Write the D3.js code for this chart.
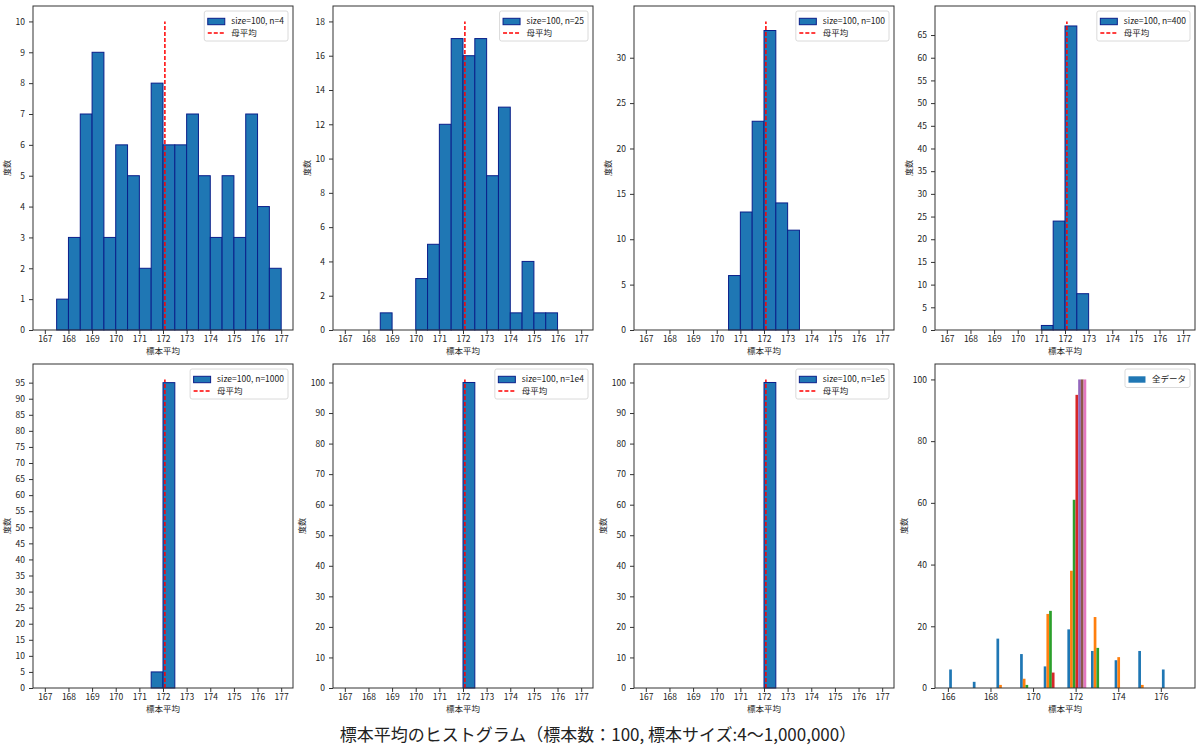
<!DOCTYPE html>
<html>
<head>
<meta charset="utf-8">
<script src="https://cdn.jsdelivr.net/npm/d3@7"></script>
<style>
  body { margin: 0; background: #fff; }
  text { font-family: "Noto Sans CJK JP", "Noto Sans", sans-serif; }
</style>
</head>
<body>
<svg id="chart"></svg>
<script>
// bin edges shared by the first seven panels (167 .. 177, width 0.5)
const binEdges = [167, 167.5, 168, 168.5, 169, 169.5, 170, 170.5, 171, 171.5, 172,
                  172.5, 173, 173.5, 174, 174.5, 175, 175.5, 176, 176.5, 177];

const counts4     = [0, 1, 3, 7, 9, 3, 6, 5, 2, 8, 6, 6, 7, 5, 3, 5, 3, 7, 4, 2];
const counts25    = [0, 0, 0, 1, 0, 0, 3, 5, 12, 17, 16, 17, 9, 13, 1, 4, 1, 1, 0, 0];
const counts100   = [0, 0, 0, 0, 0, 0, 0, 6, 13, 23, 33, 14, 11, 0, 0, 0, 0, 0, 0, 0];
const counts400   = [0, 0, 0, 0, 0, 0, 0, 0, 1, 24, 67, 8, 0, 0, 0, 0, 0, 0, 0, 0];
const counts1000  = [0, 0, 0, 0, 0, 0, 0, 0, 0, 5, 95, 0, 0, 0, 0, 0, 0, 0, 0, 0];
const counts1e4   = [0, 0, 0, 0, 0, 0, 0, 0, 0, 0, 100, 0, 0, 0, 0, 0, 0, 0, 0, 0];
const counts1e5   = [0, 0, 0, 0, 0, 0, 0, 0, 0, 0, 100, 0, 0, 0, 0, 0, 0, 0, 0, 0];

const panelLabels = ['size=100, n=4', 'size=100, n=25', 'size=100, n=100', 'size=100, n=400',
                     'size=100, n=1000', 'size=100, n=1e4', 'size=100, n=1e5'];
const panelCounts = [counts4, counts25, counts100, counts400, counts1000, counts1e4, counts1e5];

const yTicksList = [
  d3.range(0, 11, 1),
  d3.range(0, 19, 2),
  d3.range(0, 31, 5),
  d3.range(0, 66, 5),
  d3.range(0, 96, 5),
  d3.range(0, 101, 10),
  d3.range(0, 101, 10)
];
const xTicks = [167, 168, 169, 170, 171, 172, 173, 174, 175, 176, 177];

const popMean = 172.08;

// last panel: all series together, 10 bins over the full range
const allRange = [165.95, 177.05];
const allBins = 10;
const allCounts = [
  [6, 2, 16, 11, 7, 19, 12, 9, 12, 6],     // n=4
  [0, 0, 1, 3, 24, 38, 23, 10, 1, 0],      // n=25
  [0, 0, 0, 1, 25, 61, 13, 0, 0, 0],       // n=100
  [0, 0, 0, 0, 5, 95, 0, 0, 0, 0],         // n=400
  [0, 0, 0, 0, 0, 100, 0, 0, 0, 0],        // n=1000
  [0, 0, 0, 0, 0, 100, 0, 0, 0, 0],        // n=1e4
  [0, 0, 0, 0, 0, 100, 0, 0, 0, 0]         // n=1e5
];
const allXTicks = [166, 168, 170, 172, 174, 176];
const allYTicks = [0, 20, 40, 60, 80, 100];

const title = '標本平均のヒストグラム（標本数：100, 標本サイズ:4〜1,000,000）';

const W = 1200, H = 752;
const colLeft = [33, 333, 634, 935];
const rowTop = [6, 364];
const pw = 260, ph = 324;
const fs = 8.5;

const svg = d3.select('#chart').attr('width', W).attr('height', H);

function styleAxis(a) {
  a.select('.domain').remove();
  a.selectAll('line').attr('stroke', '#333');
  a.selectAll('text').attr('font-size', fs).attr('fill', '#222')
    .style('font-family', '"Noto Sans CJK JP", "Noto Sans", sans-serif');
  a.attr('font-family', null).attr('font-size', null);
}

function drawAxes(g, x, y, xt, yt) {
  const xa = g.append('g').attr('transform', `translate(0,${ph})`)
    .call(d3.axisBottom(x).tickValues(xt).tickSize(4).tickPadding(2).tickFormat(d3.format('d')));
  styleAxis(xa);
  const ya = g.append('g')
    .call(d3.axisLeft(y).tickValues(yt).tickSize(4).tickPadding(4).tickFormat(d3.format('d')));
  styleAxis(ya);

  let maxW = 0;
  ya.selectAll('text').each(function () { maxW = Math.max(maxW, this.getComputedTextLength()); });

  g.append('rect').attr('width', pw).attr('height', ph)
    .attr('fill', 'none').attr('stroke', '#333').attr('stroke-width', 1);

  g.append('text').attr('x', pw / 2).attr('y', ph + 24)
    .attr('text-anchor', 'middle').attr('font-size', fs).attr('fill', '#222')
    .text('標本平均');

  const lx = -4 - 4 - maxW - 6;
  g.append('text').attr('transform', `translate(${lx},${ph / 2}) rotate(-90)`)
    .attr('text-anchor', 'middle').attr('font-size', 8).attr('fill', '#222')
    .text('度数');
}

function drawLegend(g, items) {
  const lg = g.append('g');
  const rowH = 11.5;
  const box = lg.append('rect').attr('rx', 2).attr('ry', 2)
    .attr('fill', 'white').attr('fill-opacity', 0.85)
    .attr('stroke', '#d0d0d0').attr('stroke-width', 0.8);
  let maxW = 0;
  items.forEach((it, i) => {
    const cy = 10.5 + i * rowH;
    if (it.type === 'patch') {
      lg.append('rect').attr('x', 3.5).attr('y', cy - 3.2).attr('width', 17).attr('height', 6.4)
        .attr('fill', it.color).attr('stroke', it.stroke || 'none').attr('stroke-width', 1);
    } else {
      lg.append('line').attr('x1', 3.5).attr('x2', 20.5).attr('y1', cy).attr('y2', cy)
        .attr('stroke', it.color).attr('stroke-width', 1.5).attr('stroke-dasharray', '4,2');
    }
    const t = lg.append('text').attr('x', 27).attr('y', cy).attr('dy', '0.35em')
      .attr('font-size', fs).attr('fill', '#222').text(it.label);
    maxW = Math.max(maxW, t.node().getComputedTextLength());
  });
  const bw = 27 + maxW + 4;
  const bh = 5 + items.length * rowH + 2;
  box.attr('width', bw).attr('height', bh);
  lg.attr('transform', `translate(${pw - 5 - bw},5)`);
}

// first seven panels
panelCounts.forEach((counts, k) => {
  const col = k % 4, row = Math.floor(k / 4);
  const g = svg.append('g').attr('transform', `translate(${colLeft[col]},${rowTop[row]})`);

  const lineTop = d3.max(counts) + 1;
  const x = d3.scaleLinear().domain([166.5, 177.5]).range([0, pw]);
  const y = d3.scaleLinear().domain([0, lineTop * 1.05]).range([ph, 0]);

  const bins = counts.map((c, i) => ({ x0: binEdges[i], x1: binEdges[i + 1], c: c }))
    .filter(d => d.c > 0);

  g.selectAll('rect.bar').data(bins).enter().append('rect')
    .attr('class', 'bar')
    .attr('x', d => x(d.x0))
    .attr('y', d => y(d.c))
    .attr('width', d => x(d.x1) - x(d.x0))
    .attr('height', d => y(0) - y(d.c))
    .attr('fill', '#1f77b4')
    .attr('stroke', '#0a1f8a')
    .attr('stroke-width', 1);

  g.append('line')
    .attr('x1', x(popMean)).attr('x2', x(popMean))
    .attr('y1', y(0)).attr('y2', y(lineTop))
    .attr('stroke', 'red').attr('stroke-width', 1.5).attr('stroke-dasharray', '4,2');

  drawAxes(g, x, y, xTicks, yTicksList[k]);

  drawLegend(g, [
    { type: 'patch', color: '#1f77b4', stroke: '#0a1f8a', label: panelLabels[k] },
    { type: 'line', color: 'red', label: '母平均' }
  ]);
});

// last panel: grouped histogram of every series
{
  const g = svg.append('g').attr('transform', `translate(${colLeft[3]},${rowTop[1]})`);
  const span = allRange[1] - allRange[0];
  const x = d3.scaleLinear()
    .domain([allRange[0] - span * 0.05, allRange[1] + span * 0.05]).range([0, pw]);
  const y = d3.scaleLinear().domain([0, 105]).range([ph, 0]);
  const color = d3.scaleOrdinal(d3.schemeCategory10);

  const binW = span / allBins;
  const barW = 0.8 * binW / allCounts.length;

  const bars = [];
  allCounts.forEach((series, j) => {
    series.forEach((c, i) => {
      if (c > 0) {
        bars.push({ j: j, x0: allRange[0] + i * binW + 0.1 * binW + j * barW, c: c });
      }
    });
  });

  g.selectAll('rect.bar').data(bars).enter().append('rect')
    .attr('class', 'bar')
    .attr('x', d => x(d.x0))
    .attr('y', d => y(d.c))
    .attr('width', d => x(d.x0 + barW) - x(d.x0))
    .attr('height', d => y(0) - y(d.c))
    .attr('fill', d => color(d.j));

  drawAxes(g, x, y, allXTicks, allYTicks);
  drawLegend(g, [{ type: 'patch', color: '#1f77b4', label: '全データ' }]);
}

svg.append('text')
  .attr('x', 598).attr('y', 741)
  .attr('text-anchor', 'middle')
  .attr('font-size', 17).attr('fill', '#222')
  .text(title);
</script>
</body>
</html>
